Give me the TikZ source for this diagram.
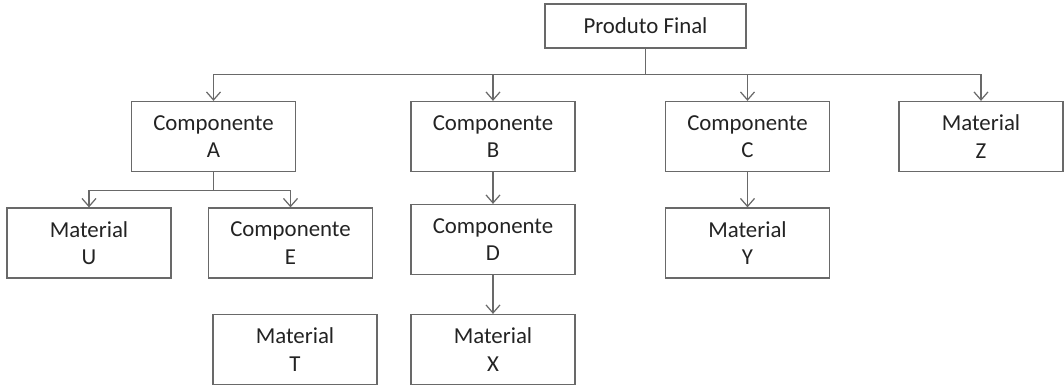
\documentclass[tikz,border=0pt]{standalone}
\usepackage{fontspec}
\setmainfont{Carlito}
\definecolor{boxgray}{RGB}{105,105,105}
\definecolor{textgray}{RGB}{35,35,35}
\usetikzlibrary{arrows.meta}

\begin{document}
\begin{tikzpicture}[
  item/.style={draw=boxgray, line width=0.7pt, minimum width=3.28cm, minimum height=1.4cm,
    inner sep=0pt, align=center, text=textgray, font=\fontsize{13}{15.5}\selectfont},
  link/.style={draw=boxgray, line width=0.7pt, -{Straight Barb[length=1.6mm,width=2.8mm]}}]
  \useasboundingbox (0,0) rectangle (21.28,7.72);
  % top level
  \node[item, minimum width=4.02cm, minimum height=0.88cm] (final) at (12.91,7.2) {Produto Final};
  \node[item] (compA) at (4.27,4.99) {Componente\\A};
  \node[item] (compB) at (9.86,4.99) {Componente\\B};
  \node[item] (compC) at (14.95,4.99) {Componente\\C};
  \node[item] (matZ) at (19.62,4.99) {Material\\Z};
  % second level
  \node[item] (matU) at (1.78,2.86) {Material\\U};
  \node[item] (compE) at (5.81,2.86) {Componente\\E};
  \node[item] (compD) at (9.86,2.93) {Componente\\D};
  \node[item] (matY) at (14.95,2.86) {Material\\Y};
  % third level
  \node[item] (matT) at (5.90,0.73) {Material\\T};
  \node[item] (matX) at (9.86,0.73) {Material\\X};
  % connectors
  \draw[link] (final.south) -- ++(0,-0.52) -| (compA.north);
  \draw[link] (final.south) -- ++(0,-0.52) -| (compB.north);
  \draw[link] (final.south) -- ++(0,-0.52) -| (compC.north);
  \draw[link] (final.south) -- ++(0,-0.52) -| (matZ.north);
  \draw[link] (compA.south) -- ++(0,-0.37) -| (matU.north);
  \draw[link] (compA.south) -- ++(0,-0.37) -| (compE.north);
  \draw[link] (compB.south) -- (compD.north);
  \draw[link] (compD.south) -- (matX.north);
  \draw[link] (compC.south) -- (matY.north);
\end{tikzpicture}
\end{document}
